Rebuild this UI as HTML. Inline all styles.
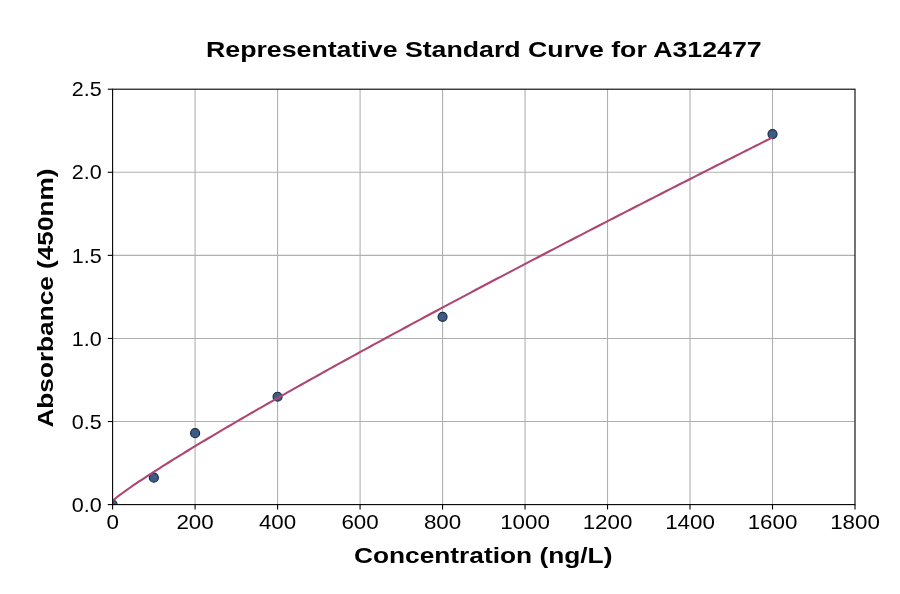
<!DOCTYPE html>
<html><head><meta charset="utf-8"><style>
html,body{margin:0;padding:0;background:#fff;width:900px;height:594px;overflow:hidden}
svg{display:block;will-change:transform}
text{font-family:"Liberation Sans",sans-serif;fill:#000}
.tk{font-size:19.8px}
.lb{font-size:22.2px;font-weight:bold}
.g{stroke:#b0b0b0;stroke-width:1.1}
.t{stroke:#000;stroke-width:1.1}
.m{fill:#3c5b87;stroke:#1b2d42;stroke-width:1.2}
</style></head><body>
<svg width="900" height="594" viewBox="0 0 900 594">
<rect width="900" height="594" fill="#fff"/>
<defs><clipPath id="ax"><rect x="112.6" y="89.2" width="742.4" height="415.40000000000003"/></clipPath></defs>
<line x1="195.09" y1="89.2" x2="195.09" y2="504.6" class="g"/><line x1="277.58" y1="89.2" x2="277.58" y2="504.6" class="g"/><line x1="360.07" y1="89.2" x2="360.07" y2="504.6" class="g"/><line x1="442.56" y1="89.2" x2="442.56" y2="504.6" class="g"/><line x1="525.04" y1="89.2" x2="525.04" y2="504.6" class="g"/><line x1="607.53" y1="89.2" x2="607.53" y2="504.6" class="g"/><line x1="690.02" y1="89.2" x2="690.02" y2="504.6" class="g"/><line x1="772.51" y1="89.2" x2="772.51" y2="504.6" class="g"/><line x1="112.6" y1="421.52" x2="855.0" y2="421.52" class="g"/><line x1="112.6" y1="338.44" x2="855.0" y2="338.44" class="g"/><line x1="112.6" y1="255.36" x2="855.0" y2="255.36" class="g"/><line x1="112.6" y1="172.28" x2="855.0" y2="172.28" class="g"/>
<g clip-path="url(#ax)">
<circle cx="112.60" cy="504.60" r="4.5" class="m"/><circle cx="153.84" cy="477.68" r="4.5" class="m"/><circle cx="195.09" cy="433.15" r="4.5" class="m"/><circle cx="277.58" cy="396.76" r="4.5" class="m"/><circle cx="442.56" cy="316.84" r="4.5" class="m"/><circle cx="772.51" cy="134.06" r="4.5" class="m"/>
<path d="M112.60,500.96 L115.92,498.02 L119.23,495.44 L122.55,492.98 L125.86,490.59 L129.18,488.25 L132.50,485.96 L135.81,483.70 L139.13,481.47 L142.45,479.26 L145.76,477.07 L149.08,474.91 L152.39,472.76 L155.71,470.63 L159.03,468.51 L162.34,466.41 L165.66,464.32 L168.97,462.24 L172.29,460.17 L175.61,458.12 L178.92,456.07 L182.24,454.03 L185.55,452.00 L188.87,449.98 L192.19,447.96 L195.50,445.96 L198.82,443.96 L202.14,441.97 L205.45,439.98 L208.77,438.00 L212.08,436.03 L215.40,434.06 L218.72,432.10 L222.03,430.14 L225.35,428.19 L228.66,426.24 L231.98,424.30 L235.30,422.37 L238.61,420.44 L241.93,418.51 L245.25,416.59 L248.56,414.67 L251.88,412.76 L255.19,410.85 L258.51,408.94 L261.83,407.04 L265.14,405.14 L268.46,403.24 L271.77,401.35 L275.09,399.47 L278.41,397.58 L281.72,395.70 L285.04,393.82 L288.36,391.95 L291.67,390.08 L294.99,388.21 L298.30,386.35 L301.62,384.49 L304.94,382.63 L308.25,380.77 L311.57,378.92 L314.88,377.07 L318.20,375.22 L321.52,373.38 L324.83,371.53 L328.15,369.69 L331.46,367.86 L334.78,366.02 L338.10,364.19 L341.41,362.36 L344.73,360.53 L348.05,358.71 L351.36,356.88 L354.68,355.06 L357.99,353.24 L361.31,351.43 L364.63,349.61 L367.94,347.80 L371.26,345.99 L374.57,344.19 L377.89,342.38 L381.21,340.58 L384.52,338.77 L387.84,336.98 L391.16,335.18 L394.47,333.38 L397.79,331.59 L401.10,329.80 L404.42,328.01 L407.74,326.22 L411.05,324.43 L414.37,322.65 L417.68,320.86 L421.00,319.08 L424.32,317.30 L427.63,315.52 L430.95,313.75 L434.27,311.97 L437.58,310.20 L440.90,308.43 L444.21,306.66 L447.53,304.89 L450.85,303.13 L454.16,301.36 L457.48,299.60 L460.79,297.84 L464.11,296.07 L467.43,294.32 L470.74,292.56 L474.06,290.80 L477.37,289.05 L480.69,287.30 L484.01,285.54 L487.32,283.79 L490.64,282.04 L493.96,280.30 L497.27,278.55 L500.59,276.81 L503.90,275.06 L507.22,273.32 L510.54,271.58 L513.85,269.84 L517.17,268.10 L520.48,266.36 L523.80,264.63 L527.12,262.89 L530.43,261.16 L533.75,259.43 L537.07,257.70 L540.38,255.97 L543.70,254.24 L547.01,252.51 L550.33,250.79 L553.65,249.06 L556.96,247.34 L560.28,245.62 L563.59,243.90 L566.91,242.18 L570.23,240.46 L573.54,238.74 L576.86,237.02 L580.18,235.31 L583.49,233.59 L586.81,231.88 L590.12,230.16 L593.44,228.45 L596.76,226.74 L600.07,225.03 L603.39,223.33 L606.70,221.62 L610.02,219.91 L613.34,218.21 L616.65,216.50 L619.97,214.80 L623.28,213.10 L626.60,211.40 L629.92,209.70 L633.23,208.00 L636.55,206.30 L639.87,204.60 L643.18,202.90 L646.50,201.21 L649.81,199.51 L653.13,197.82 L656.45,196.13 L659.76,194.44 L663.08,192.75 L666.39,191.06 L669.71,189.37 L673.03,187.68 L676.34,185.99 L679.66,184.31 L682.98,182.62 L686.29,180.94 L689.61,179.25 L692.92,177.57 L696.24,175.89 L699.56,174.21 L702.87,172.53 L706.19,170.85 L709.50,169.17 L712.82,167.49 L716.14,165.81 L719.45,164.14 L722.77,162.46 L726.09,160.79 L729.40,159.11 L732.72,157.44 L736.03,155.77 L739.35,154.10 L742.67,152.43 L745.98,150.76 L749.30,149.09 L752.61,147.42 L755.93,145.75 L759.25,144.09 L762.56,142.42 L765.88,140.76 L769.19,139.09 L772.51,137.43" fill="none" stroke="#ae4672" stroke-width="2.1" stroke-linejoin="round" stroke-linecap="butt"/>
</g>
<rect x="112.6" y="89.2" width="742.4" height="415.40000000000003" fill="none" stroke="#000" stroke-width="1.1"/>
<line x1="112.60" y1="504.6" x2="112.60" y2="509.46" class="t"/><line x1="195.09" y1="504.6" x2="195.09" y2="509.46" class="t"/><line x1="277.58" y1="504.6" x2="277.58" y2="509.46" class="t"/><line x1="360.07" y1="504.6" x2="360.07" y2="509.46" class="t"/><line x1="442.56" y1="504.6" x2="442.56" y2="509.46" class="t"/><line x1="525.04" y1="504.6" x2="525.04" y2="509.46" class="t"/><line x1="607.53" y1="504.6" x2="607.53" y2="509.46" class="t"/><line x1="690.02" y1="504.6" x2="690.02" y2="509.46" class="t"/><line x1="772.51" y1="504.6" x2="772.51" y2="509.46" class="t"/><line x1="855.00" y1="504.6" x2="855.00" y2="509.46" class="t"/><line x1="107.74" y1="504.60" x2="112.6" y2="504.60" class="t"/><line x1="107.74" y1="421.52" x2="112.6" y2="421.52" class="t"/><line x1="107.74" y1="338.44" x2="112.6" y2="338.44" class="t"/><line x1="107.74" y1="255.36" x2="112.6" y2="255.36" class="t"/><line x1="107.74" y1="172.28" x2="112.6" y2="172.28" class="t"/><line x1="107.74" y1="89.20" x2="112.6" y2="89.20" class="t"/>
<text transform="translate(112.60,528.8) scale(1.13,1)" text-anchor="middle" class="tk">0</text><text transform="translate(195.09,528.8) scale(1.13,1)" text-anchor="middle" class="tk">200</text><text transform="translate(277.58,528.8) scale(1.13,1)" text-anchor="middle" class="tk">400</text><text transform="translate(360.07,528.8) scale(1.13,1)" text-anchor="middle" class="tk">600</text><text transform="translate(442.56,528.8) scale(1.13,1)" text-anchor="middle" class="tk">800</text><text transform="translate(525.04,528.8) scale(1.13,1)" text-anchor="middle" class="tk">1000</text><text transform="translate(607.53,528.8) scale(1.13,1)" text-anchor="middle" class="tk">1200</text><text transform="translate(690.02,528.8) scale(1.13,1)" text-anchor="middle" class="tk">1400</text><text transform="translate(772.51,528.8) scale(1.13,1)" text-anchor="middle" class="tk">1600</text><text transform="translate(855.00,528.8) scale(1.13,1)" text-anchor="middle" class="tk">1800</text><text transform="translate(101.8,511.80) scale(1.088,1)" text-anchor="end" class="tk">0.0</text><text transform="translate(101.8,428.72) scale(1.088,1)" text-anchor="end" class="tk">0.5</text><text transform="translate(101.8,345.64) scale(1.088,1)" text-anchor="end" class="tk">1.0</text><text transform="translate(101.8,262.56) scale(1.088,1)" text-anchor="end" class="tk">1.5</text><text transform="translate(101.8,179.48) scale(1.088,1)" text-anchor="end" class="tk">2.0</text><text transform="translate(101.8,96.40) scale(1.088,1)" text-anchor="end" class="tk">2.5</text>
<text transform="translate(483.8,56.7) scale(1.204,1)" text-anchor="middle" class="lb">Representative Standard Curve for A312477</text>
<text transform="translate(483.15,563.4) scale(1.185,1)" text-anchor="middle" class="lb">Concentration (ng/L)</text>
<text transform="translate(52.9,298.05) rotate(-90) scale(1.18,1)" text-anchor="middle" class="lb">Absorbance (450nm)</text>
</svg>
</body></html>
